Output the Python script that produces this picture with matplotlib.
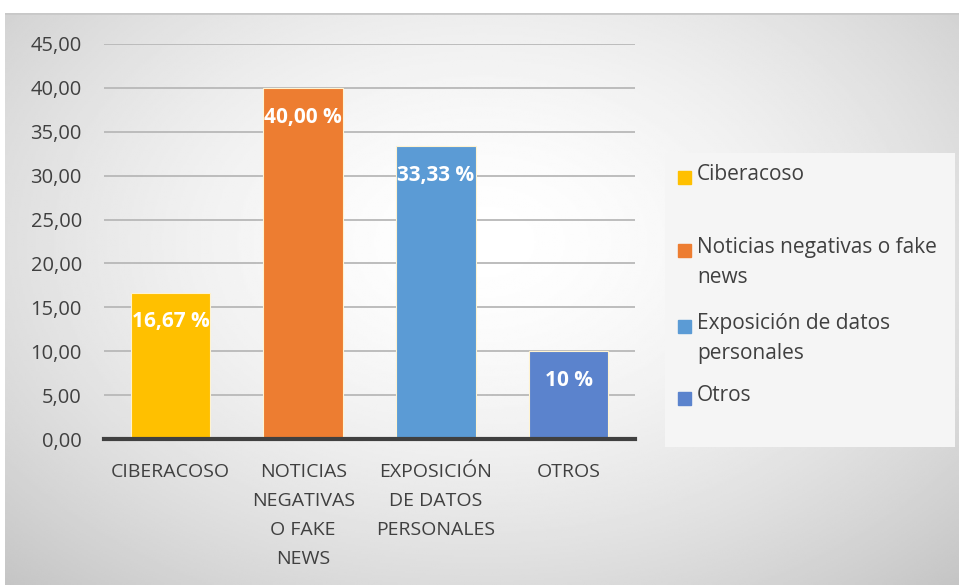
import numpy as np
import matplotlib.pyplot as plt
from matplotlib.patches import Rectangle

# Data
categories = ['CIBERACOSO', 'NOTICIAS\nNEGATIVAS\nO FAKE\nNEWS',
              'EXPOSICIÓN\nDE DATOS\nPERSONALES', 'OTROS']
series = ['Ciberacoso', 'Noticias negativas o fake\nnews',
          'Exposición de datos\npersonales', 'Otros']
values = [16.67, 40.00, 33.33, 10.00]
value_labels = ['16,67 %', '40,00 %', '33,33 %', '10 %']
colors = ['#FFC000', '#ED7D31', '#5B9BD5', '#5B83CD']
yticks = np.arange(0, 46, 5)

plt.rcParams['font.family'] = ['Open Sans', 'DejaVu Sans']

W, H = 959, 585
fig = plt.figure(figsize=(W / 100, H / 100), dpi=100)

# Chart area background (radial gradient)
bg = fig.add_axes([5 / W, 0, 1 - 5 / W, (H - 13) / H])
yy, xx = np.mgrid[0:1:300j, 0:1:500j]
r = np.sqrt(((xx - 0.5) / 0.75) ** 2 + ((yy - 0.6) / 0.85) ** 2)
shade = 1.0 - 0.24 * np.clip(r, 0, 1) ** 1.6
bg.imshow(shade, cmap='gray', vmin=0, vmax=1, aspect='auto',
          extent=[0, 1, 0, 1], origin='lower')
bg.set_xlim(0, 1)
bg.set_ylim(0, 1)
bg.axhline(1, color='#C8C8C8', lw=2)
bg.axis('off')

# Plot area
ax = fig.add_axes([104 / W, (H - 439) / H, (635 - 104) / W, (439 - 44) / H])
ax.set_facecolor('none')
x = np.arange(len(categories))
bars = ax.bar(x, values, width=0.6, color=colors, edgecolor='#FFF3D0',
              linewidth=0.8, zorder=3)
for b, lab in zip(bars, value_labels):
    ax.annotate(lab, (b.get_x() + b.get_width() / 2, b.get_height()),
                xytext=(0, -21), textcoords='offset points', ha='center',
                va='center', color='white', fontsize=15, fontweight='bold',
                zorder=4)

ax.set_xlim(-0.5, 3.5)
ax.set_ylim(0, 45)
ax.set_yticks(yticks)
ax.set_yticklabels([f'{v:.2f}'.replace('.', ',') for v in yticks],
                   fontsize=14.5, color='#404040')
ax.yaxis.grid(True, color='#B8B8B8', lw=1.3, zorder=0)
ax.set_xticks(x)
ax.set_xticklabels(categories, fontsize=14, color='#404040',
                   linespacing=1.8, va='top')
ax.tick_params(length=0, pad=17)
ax.tick_params(axis='y', pad=16)
for s in ['top', 'right', 'left']:
    ax.spines[s].set_visible(False)
ax.spines['bottom'].set_color('#404040')
ax.spines['bottom'].set_linewidth(3)
ax.spines['bottom'].set_zorder(5)

# Legend box
lg = fig.add_axes([665 / W, (H - 447) / H, (955 - 665) / W, (447 - 153) / H])
lg.set_xlim(665, 955)
lg.set_ylim(447, 153)
lg.add_patch(Rectangle((665, 153), 290, 294, color='#F5F5F5', zorder=0))
lg.axis('off')
entry_y = [177, 250, 326, 398]
for yv, lab, c in zip(entry_y, series, colors):
    lg.add_patch(Rectangle((678, yv - 6.5), 13, 13, color=c))
    lg.text(697, yv - 13, lab, fontsize=15, color='#404040',
            va='top', ha='left', linespacing=1.55)

fig.savefig('out.png', dpi=100)
